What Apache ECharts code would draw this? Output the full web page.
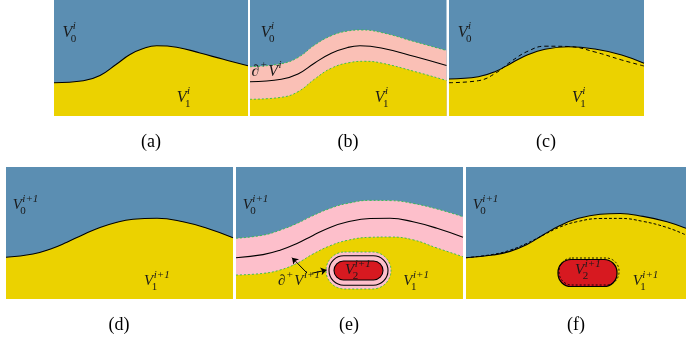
<!DOCTYPE html>
<html><head><meta charset="utf-8">
<script src="https://cdn.jsdelivr.net/npm/echarts@6/dist/echarts.min.js"></script>
<style>html,body{margin:0;padding:0;background:#fff}#c{width:686px;height:341px}</style>
</head><body><div id="c"></div>
<script>
// ---- data (panel-local units: x from panel left, y height above panel bottom) ----
const curveA = [[0,33.3],[29.3,35.2],[46,40.5],[62.7,52],[76,61.5],[89.3,67.5],[102.7,70.2],[122.7,68.8],[146,63],[169.3,56.7],[194,50.3]];
const curveBMid = [[0,34.3],[31.3,36.8],[48,42],[64.7,53],[81.3,62.8],[98,68.6],[110,70.2],[131.3,68],[164.7,59.5],[196.5,50.5]];
const curveBUp = [[0,49.3],[31.3,52.3],[48,58.5],[64.7,71],[81.3,80.3],[98,85],[111.3,86],[131.3,83.5],[164.7,74.3],[196.5,65.5]];
const curveBLow = [[0,16.7],[31.3,18.7],[48,24.3],[64.7,37],[81.3,47.8],[100,53.5],[114.7,54.7],[131.3,53],[164.7,44.5],[196.5,35.5]];
const curveCSolid = [[0,37],[29.3,39.3],[46,44.3],[62.7,53],[79.3,61.5],[96,66.8],[119.3,69.3],[146,67],[172.7,61],[195,52.7]];
const curveCDash = [[0,33.3],[29.3,35.3],[46,42.5],[62.7,55],[79.3,65],[96,69.8],[119.3,69.5],[146,64],[172.7,56],[195,50]];
const curveD = [[0,41.7],[27,45],[44,49.8],[61,56.8],[77,64.3],[94,71.5],[111,76.8],[127,79.7],[151,80.7],[177,77.2],[201,70.7],[227,61.3]];
const curveEX = [0,27,44,61,77,94,111,134,154,177,201,227];
const curveEMidY = [41.3,44.4,48.8,55.5,63.6,71.6,77,80.5,80.7,77.2,70.7,61.7];
const curveEUpY = [60.7,63.8,68.8,75.6,83.4,90.6,95.5,98.6,98.4,95.6,90,82.3];
const curveELowY = [24,25.6,29,35.7,45,53.2,58.6,61.7,62,59.2,51,42.3];
const curveFX = [0,27,44,61,77,94,111,134,154,177,201,220];
const curveFSolidY = [41.3,44,47.6,54.5,64,73.5,80.3,84.8,85.5,82.6,77.3,70.7];
const curveFDashY = [41.3,44.6,48.8,55.7,63.8,72,77.3,80.5,80.6,77.6,71.5,64];
// blobs: [centerX, centerY, width, height]
const blobEPink = [122.5, 28.5, 65, 37];
const blobEOuter = [122.5, 28.5, 59, 29.5];
const blobERed = [122.5, 28.5, 49, 19];
const blobFRed = [121.5, 26, 59, 27];
const blobFDash = [123, 27.5, 60, 27];
const arrowsE = [[[71,26],[56,41.3]], [[75.7,25.7],[90.7,29]]];
const captions = ['(a)','(b)','(c)','(d)','(e)','(f)'];

const zip = (xs, ys) => xs.map((x, i) => [x, ys[i]]);

// ---- layout ----
const panels = [
  {left:54, top:0, W:194, H:116},
  {left:250, top:0, W:196.5, H:116},
  {left:449, top:0, W:195, H:116},
  {left:6, top:167, W:227, H:132},
  {left:236, top:167, W:227, H:132},
  {left:466, top:167, W:220, H:132}
];
const captionPos = [[151,142],[348,142],[546,142],[119,325],[349,325],[576,325]];

const BLUE = '#5b8eb2', YELLOW = '#ebd200', PINK_B = '#fac0b6', PINK_E = '#fdbfcb', RED = '#d71920', GREEN = '#2fbf4a';

const grids = panels.map(p => ({left:p.left, top:p.top, width:p.W, height:p.H, show:true, backgroundColor:BLUE, borderWidth:0, containLabel:false}));
const xAxes = panels.map((p,i) => ({type:'value', gridIndex:i, min:0, max:p.W, show:false}));
const yAxes = panels.map((p,i) => ({type:'value', gridIndex:i, min:0, max:p.H, show:false}));

const SM = 0.45;
function area(g, data, color, z) {
  return {type:'line', xAxisIndex:g, yAxisIndex:g, data, smooth:SM, symbol:'none', silent:true,
    lineStyle:{width:0, opacity:0}, areaStyle:{color, opacity:1, origin:'start'}, z};
}
function curve(g, data, color, width, dash, z) {
  return {type:'line', xAxisIndex:g, yAxisIndex:g, data, smooth:SM, symbol:'none', silent:true,
    lineStyle:{color, width, type:dash || 'solid'}, z};
}
function blob(g, b, style, z, rFactor) {
  return {type:'custom', coordinateSystem:'cartesian2d', xAxisIndex:g, yAxisIndex:g, silent:true, z,
    data:[b],
    renderItem:(params, api) => {
      const c = api.coord([api.value(0), api.value(1)]);
      const s = api.size([api.value(2), api.value(3)]);
      return {type:'rect', shape:{x:c[0]-s[0]/2, y:c[1]-s[1]/2, width:s[0], height:s[1], r:s[1]*(rFactor||0.5)}, style};
    }};
}

const series = [
  // (a)
  area(0, curveA, YELLOW, 2), curve(0, curveA, '#000', 1.1, null, 5),
  // (b)
  area(1, curveBUp, PINK_B, 2), area(1, curveBLow, YELLOW, 3),
  curve(1, curveBUp, GREEN, 0.9, [2,2], 5), curve(1, curveBLow, GREEN, 0.9, [2,2], 5),
  curve(1, curveBMid, '#000', 1.1, null, 6),
  // (c)
  area(2, curveCSolid, YELLOW, 2), curve(2, curveCSolid, '#000', 1.1, null, 5), curve(2, curveCDash, '#000', 1, [4,3], 5),
  // (d)
  area(3, curveD, YELLOW, 2), curve(3, curveD, '#000', 1.1, null, 5),
  // (e)
  area(4, zip(curveEX, curveEUpY), PINK_E, 2), area(4, zip(curveEX, curveELowY), YELLOW, 3),
  curve(4, zip(curveEX, curveEUpY), GREEN, 0.9, [2,2], 5), curve(4, zip(curveEX, curveELowY), GREEN, 0.9, [2,2], 5),
  curve(4, zip(curveEX, curveEMidY), '#000', 1.1, null, 6),
  blob(4, blobEPink, {fill:PINK_E, stroke:GREEN, lineWidth:0.9, lineDash:[2,2]}, 7),
  blob(4, blobEOuter, {fill:'none', stroke:'#000', lineWidth:1.1}, 8),
  blob(4, blobERed, {fill:RED, stroke:'#000', lineWidth:1.1}, 9),
  {type:'lines', coordinateSystem:'cartesian2d', xAxisIndex:4, yAxisIndex:4, silent:true, z:12,
    symbol:['none','arrow'], symbolSize:6,
    lineStyle:{color:'#000', width:1, opacity:1},
    data: arrowsE.map(c => ({coords:c}))},
  // (f)
  area(5, zip(curveFX, curveFSolidY), YELLOW, 2),
  curve(5, zip(curveFX, curveFSolidY), '#000', 1.1, null, 5),
  curve(5, zip(curveFX, curveFDashY), '#000', 1, [3,2], 5),
  blob(5, blobFRed, {fill:RED, stroke:'#000', lineWidth:1.2}, 8, 0.48),
  blob(5, blobFDash, {fill:'none', stroke:'#000', lineWidth:0.9, lineDash:[2,2]}, 9, 0.48)
];

const chart = echarts.init(document.getElementById('c'), null, {renderer:'canvas'});
chart.setOption({animation:false, grid:grids, xAxis:xAxes, yAxis:yAxes, series});

// ---- math-style labels ----
const FONT = '"Liberation Serif", "DejaVu Serif", serif';
const ctx = document.createElement('canvas').getContext('2d');
function tw(t, fs, italic) { ctx.font = (italic?'italic ':'') + fs + 'px ' + FONT; return ctx.measureText(t).width; }

// label tokens: {b: base, sup, sub}
const labelDefs = [
  {g:0, at:[8.5,83], fs:16, tokens:[{b:'V', sup:'i', sub:'0'}]},
  {g:0, at:[122.7,18], fs:16, tokens:[{b:'V', sup:'i', sub:'1'}]},
  {g:1, at:[10.7,83], fs:16, tokens:[{b:'V', sup:'i', sub:'0'}]},
  {g:1, at:[124.7,18], fs:16, tokens:[{b:'V', sup:'i', sub:'1'}]},
  {g:1, at:[1.5,44], fs:16, tokens:[{b:'∂', sup:'+'}, {b:'V', sup:'i'}]},
  {g:2, at:[8.7,83], fs:16, tokens:[{b:'V', sup:'i', sub:'0'}]},
  {g:2, at:[123,18], fs:16, tokens:[{b:'V', sup:'i', sub:'1'}]},
  {g:3, at:[6.7,94], fs:15, tokens:[{b:'V', sup:'i+1', sub:'0'}]},
  {g:3, at:[138,18], fs:15, tokens:[{b:'V', sup:'i+1', sub:'1'}]},
  {g:4, at:[6.7,94], fs:15, tokens:[{b:'V', sup:'i+1', sub:'0'}]},
  {g:4, at:[167.3,18], fs:15, tokens:[{b:'V', sup:'i+1', sub:'1'}]},
  {g:4, at:[109,29], fs:15, tokens:[{b:'V', sup:'i+1', sub:'2'}]},
  {g:4, at:[42,17.5], fs:15, tokens:[{b:'∂', sup:'+'}, {b:'V', sup:'i+1'}]},
  {g:5, at:[6.7,94], fs:15, tokens:[{b:'V', sup:'i+1', sub:'0'}]},
  {g:5, at:[166.7,18], fs:15, tokens:[{b:'V', sup:'i+1', sub:'1'}]},
  {g:5, at:[109,29], fs:15, tokens:[{b:'V', sup:'i+1', sub:'2'}]}
];

const graphic = [];
function txt(t, x, y, fs, italic, color) {
  graphic.push({type:'text', x, y, z:100, silent:true,
    style:{text:t, fontSize:fs, fontFamily:FONT, fontStyle: italic?'italic':'normal', fill:color, align:'left', verticalAlign:'middle'}});
}
labelDefs.forEach(L => {
  const p = chart.convertToPixel({gridIndex:L.g}, L.at);
  let cx = p[0]; const cy = p[1]; const fs = L.fs; const sfs = Math.round(fs*0.7);
  const col = '#1a1a1a';
  L.tokens.forEach(tk => {
    const italic = tk.b === 'V';
    txt(tk.b, cx, cy, fs, italic, col);
    cx += tw(tk.b, fs, italic);
    let w = 0;
    if (tk.sup) { txt(tk.sup, cx + 0.5, cy - fs*0.42, sfs, true, col); w = Math.max(w, tw(tk.sup, sfs, true) + 0.5); }
    if (tk.sub) { txt(tk.sub, cx - 1.5, cy + fs*0.38, sfs, false, col); w = Math.max(w, tw(tk.sub, sfs, false) - 1.5); }
    cx += w + 1;
  });
});
captions.forEach((c, i) => {
  graphic.push({type:'text', x:captionPos[i][0], y:captionPos[i][1], z:100, silent:true,
    style:{text:c, fontSize:18, fontFamily:FONT, fill:'#000', align:'center', verticalAlign:'middle'}});
});
chart.setOption({graphic});
</script></body></html>
